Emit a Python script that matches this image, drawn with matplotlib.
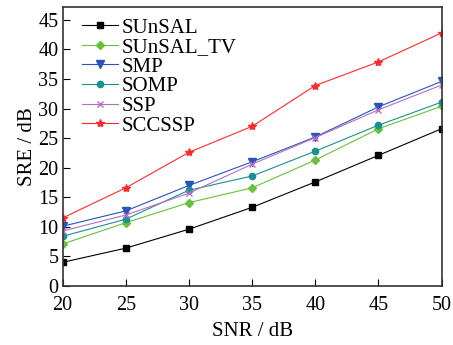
import matplotlib
matplotlib.use('Agg')
import matplotlib.pyplot as plt

snr = [20, 25, 30, 35, 40, 45, 50]
sunsal = [4.0, 6.4, 9.6, 13.3, 17.6, 22.1, 26.6]
sunsal_tv = [7.1, 10.7, 14.1, 16.6, 21.3, 26.6, 30.4]
smp = [10.1, 12.7, 17.0, 21.0, 25.2, 30.3, 34.6]
somp = [8.4, 11.3, 16.2, 18.6, 22.8, 27.2, 31.1]
ssp = [9.3, 12.0, 15.7, 20.6, 25.1, 29.8, 34.0]
sccssp = [11.5, 16.6, 22.6, 27.0, 33.9, 37.9, 42.8]

plt.rcParams['font.family'] = ['Liberation Serif', 'DejaVu Serif']

fig, ax = plt.subplots(figsize=(4.53, 3.45), dpi=100)
fig.subplots_adjust(left=0.138, right=0.975, top=0.98, bottom=0.171)

lw = 0.8
ax.plot(snr, sunsal, color='black', marker='s', ms=4, lw=lw, label='SUnSAL')
ax.plot(snr, sunsal_tv, color='#66c23a', marker='D', ms=4.5, lw=lw, label='SUnSAL_TV')
ax.plot(snr, smp, color='#2a52be', marker='v', ms=5.5, lw=lw, label='SMP')
ax.plot(snr, somp, color='#1a9090', marker='o', ms=4.5, lw=lw, label='SOMP')
ax.plot(snr, ssp, color='#b46ec8', marker='x', ms=5, mew=1, lw=lw, label='SSP')
ax.plot(snr, sccssp, color='#ff2a2a', marker='*', ms=6, lw=lw, label='SCCSSP')

ax.set_xlim(20, 50)
ax.set_ylim(0, 47.2)
ax.set_xticks(snr)
ax.set_yticks(range(0, 50, 5))
ax.tick_params(direction='in', length=5, labelsize=14.5, top=False, right=False)
ax.tick_params(axis='x', pad=7)
ax.tick_params(axis='y', pad=3)
for s in ax.spines.values():
    s.set_linewidth(1.2)
    s.set_color('#333333')

ax.set_xlabel('SNR / dB', fontsize=15, labelpad=5)
ax.set_ylabel('SRE / dB', fontsize=15, labelpad=1)

leg = ax.legend(loc='upper left', bbox_to_anchor=(0.03, 0.99), frameon=False,
                fontsize=15, handlelength=1.7, labelspacing=0.0,
                borderaxespad=0, handletextpad=0.2)

fig.savefig('out.png', dpi=100)
